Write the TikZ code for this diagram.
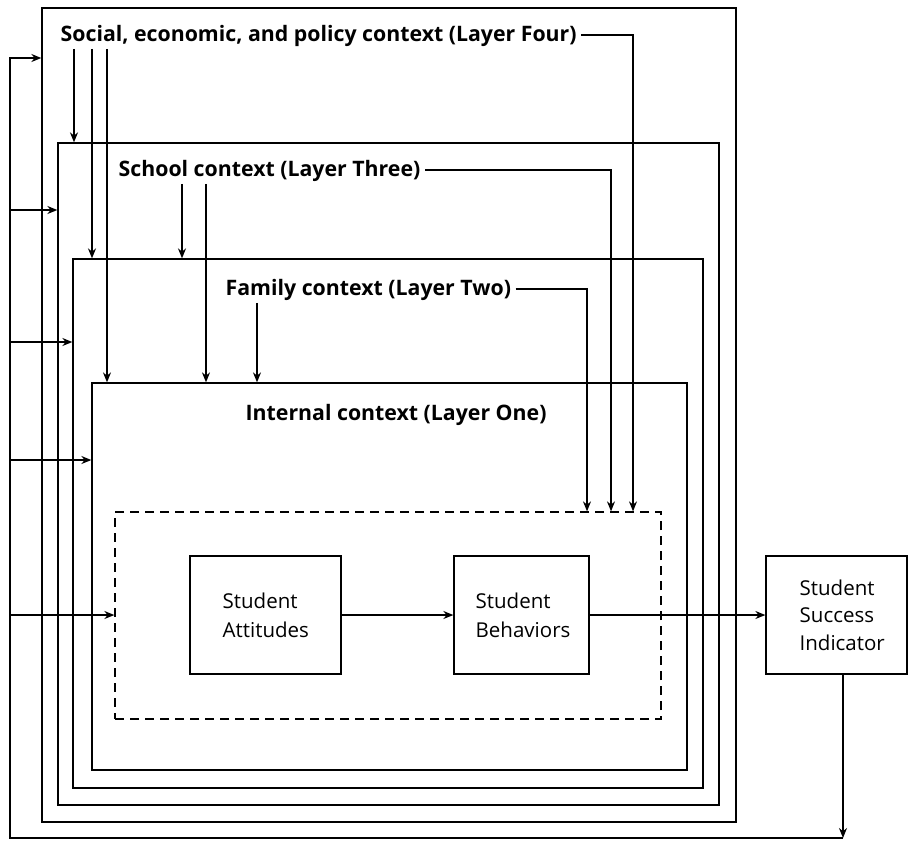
\documentclass[tikz,border=0pt]{standalone}
\usepackage{fontspec}
\setmainfont{Open Sans}
\usetikzlibrary{arrows.meta}
\begin{document}
\begin{tikzpicture}[x=1pt,y=-1pt,
  line width=1.3pt,
  box/.style={draw, rectangle, inner sep=0pt},
  ttl/.style={font=\fontsize{21.3}{25}\selectfont\bfseries, inner sep=2pt, anchor=base west},
  lbl/.style={font=\fontsize{20.5}{29}\selectfont, align=left, inner sep=0pt, anchor=base west},
  arr/.style={-{Stealth[length=10pt,width=8pt]}}]
\useasboundingbox (0,0) rectangle (909,841);
% boxes
\node[box, minimum width=694pt, minimum height=814pt] (L4) at (389,415) {};
\node[box, minimum width=661pt, minimum height=662pt] (L3) at (388.5,474) {};
\node[box, minimum width=630pt, minimum height=529pt] (L2) at (388,523.5) {};
\node[box, minimum width=595pt, minimum height=387pt] (L1) at (389.5,576.5) {};
\node[box, dashed, dash pattern=on 9pt off 6pt, minimum width=546pt, minimum height=207pt] (D) at (388,615.5) {};
\node[box, minimum width=151pt, minimum height=118pt] (SA) at (265.5,615) {};
\node[box, minimum width=135pt, minimum height=118pt] (SB) at (521.5,615) {};
\node[box, minimum width=141pt, minimum height=118pt] (SS) at (836.5,615) {};
% box texts
\node[lbl] (SAt) at (222,637) {Student\\Attitudes};
\node[lbl] (SBt) at (475,637) {Student\\Behaviors};
\node[lbl, font=\fontsize{20.5}{27.5}\selectfont] (SSt) at (799,650) {Student\\Success\\Indicator};
% titles
\node[ttl] (T4) at (58,41) {Social, economic, and policy context (Layer Four)};
\node[ttl] (T3) at (116,176) {School context (Layer Three)};
\node[ttl] (T2) at (223,295) {Family context (Layer Two)};
\node[ttl] (T1) at (243,420) {Internal context (Layer One)};
% downward arrows from titles
\draw[arr] (T4.south -| 74,0) -- (L3.north -| 74,0);
\draw[arr] (T4.south -| 92,0) -- (L2.north -| 92,0);
\draw[arr] (T4.south -| 107,0) -- (L1.north -| 107,0);
\draw[arr] (T3.south -| 182,0) -- (L2.north -| 182,0);
\draw[arr] (T3.south -| 206,0) -- (L1.north -| 206,0);
\draw[arr] (T2.south -| 257,0) -- (L1.north -| 257,0);
% right connectors
\draw[arr] ([xshift=2pt,yshift=6pt]T4.base east) -| (D.north -| 633,0);
\draw[arr] ([xshift=2pt,yshift=6pt]T3.base east) -| (D.north -| 611,0);
\draw[arr] ([xshift=2pt,yshift=6pt]T2.base east) -| (D.north -| 587,0);
% main flow
\draw[arr] (SA.east) -- (SB.west);
\draw[arr] (SB.east) -- (SB.east -| SS.west);
% feedback
\coordinate (fbR) at (843,838);
\coordinate (fbL) at (10,838);
\draw[arr] (SS.south -| fbR) -- (fbR);
\draw[arr] (fbR) -- (fbL) -- (10,58) -- (L4.west |- 0,58);
\draw[arr] (10,210) -- (L3.west |- 0,210);
\draw[arr] (10,342) -- (L2.west |- 0,342);
\draw[arr] (10,460) -- (L1.west |- 0,460);
\draw[arr] (10,615) -- (D.west |- 0,615);
\end{tikzpicture}
\end{document}
